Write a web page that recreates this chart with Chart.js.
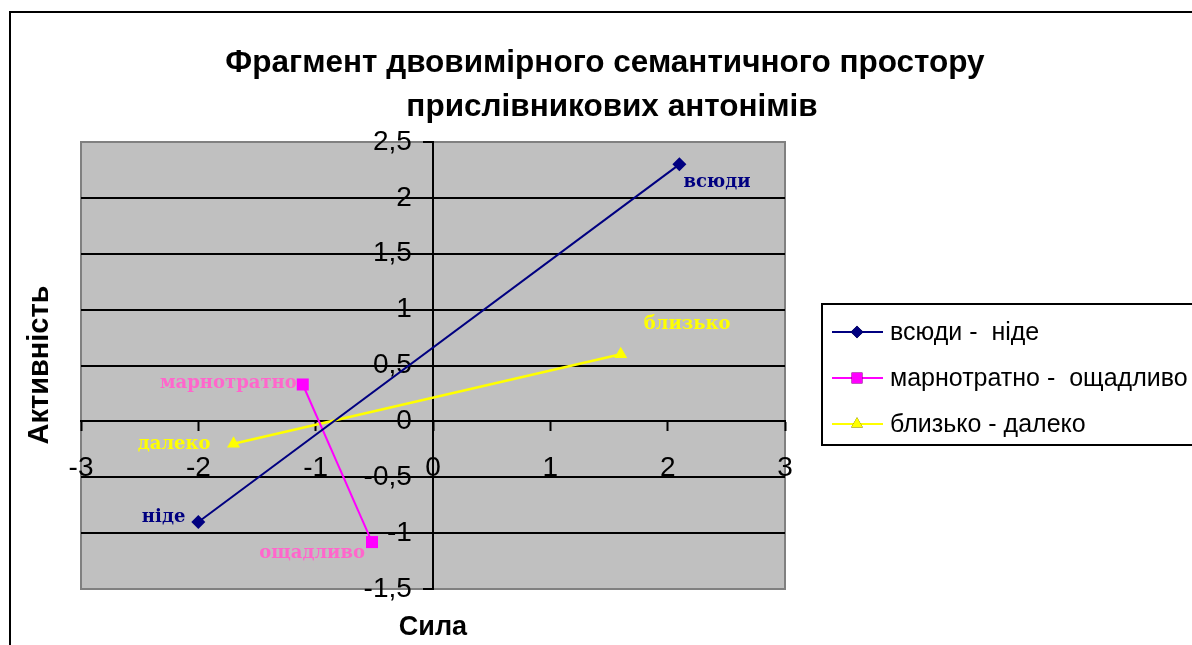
<!DOCTYPE html>
<html>
<head>
<meta charset="utf-8">
<script src="https://cdn.jsdelivr.net/npm/chart.js@4.4.0/dist/chart.umd.min.js"></script>
<style>
  html, body { margin: 0; padding: 0; background: #fff; }
  canvas { display: block; }
</style>
</head>
<body>
<canvas id="chart" width="1192" height="645"></canvas>
<script>
// Antonym pairs placed in the two-dimensional space "Сила" x "Активність"
const seriesNames = ['всюди -  ніде', 'марнотратно -  ощадливо', 'близько - далеко'];
const pointLabels = [['всюди', 'ніде'], ['марнотратно', 'ощадливо'], ['близько', 'далеко']];
const strengthValues = [[2.1, -2.0], [-1.11, -0.52], [1.6, -1.7]];
const activityValues = [[2.3, -0.9], [0.33, -1.08], [0.6, -0.2]];
const xTicks = [-3, -2, -1, 0, 1, 2, 3];
const yTicks = [-1.5, -1, -0.5, 0, 0.5, 1, 1.5, 2, 2.5];
const titleLines = ['Фрагмент двовимірного семантичного простору', 'прислівникових антонімів'];
const xTitle = 'Сила';
const yTitle = 'Активність';

const lineColors = ['#000080', '#FF00FF', '#FFFF00'];
const labelColors = ['#000080', '#FF66CC', '#FFFF00'];
const markerStyles = [
  { pointStyle: 'rectRot', radius: 7 },
  { pointStyle: 'rect', radius: 8.5 },
  { pointStyle: 'triangle', radius: 7.5 }
];
// label placement relative to each marker: [dx, dy, align]
const labelPlacement = [
  [[4, 18, 'left'], [-13, -5, 'right']],
  [[-6, -1, 'right'], [-7, 11, 'right']],
  [[23, -30, 'left'], [-23, 1, 'right']]
];

const SANS = '"Liberation Sans", Arial, sans-serif';
const SERIF = '"DejaVu Serif", serif';
const fmt = v => String(v).replace('.', ',');
// vertical-axis labels sit a little to the left of the axis line
const yLabelGap = '  \u2009';

const datasets = seriesNames.map((name, s) => ({
  label: name,
  data: strengthValues[s].map((x, i) => ({ x, y: activityValues[s][i] })),
  showLine: true,
  borderColor: lineColors[s],
  backgroundColor: lineColors[s],
  borderWidth: s === 2 ? 2.5 : 2,
  pointStyle: markerStyles[s].pointStyle,
  pointRadius: markerStyles[s].radius,
  pointBorderWidth: 0,
  pointBackgroundColor: lineColors[s],
  pointBorderColor: lineColors[s]
}));

const frame = {
  id: 'frame',
  beforeDraw(chart) {
    const { ctx, chartArea: a } = chart;
    ctx.save();
    ctx.strokeStyle = '#000';
    ctx.lineWidth = 2;
    ctx.strokeRect(10, 12, 1300, 800);
    ctx.fillStyle = '#C0C0C0';
    ctx.fillRect(a.left, a.top, a.right - a.left, a.bottom - a.top);
    ctx.strokeStyle = '#808080';
    ctx.lineWidth = 2;
    ctx.strokeRect(a.left, a.top, a.right - a.left, a.bottom - a.top);
    ctx.restore();
  },
  afterDraw(chart) {
    const { ctx } = chart;
    ctx.save();
    ctx.fillStyle = '#000';
    ctx.textAlign = 'center';
    ctx.textBaseline = 'middle';
    ctx.font = 'bold 31.5px ' + SANS;
    ctx.fillText(titleLines[0], 605, 63);
    ctx.fillText(titleLines[1], 612, 107);
    ctx.font = 'bold 27px ' + SANS;
    ctx.fillText(xTitle, 433, 628);
    ctx.font = 'bold 29px ' + SANS;
    ctx.translate(40, 365);
    ctx.rotate(-Math.PI / 2);
    ctx.fillText(yTitle, 0, 0);
    ctx.restore();

    // legend
    ctx.save();
    ctx.strokeStyle = '#000';
    ctx.lineWidth = 2;
    ctx.strokeRect(822, 304, 500, 141);
    ctx.font = '25px ' + SANS;
    ctx.textAlign = 'left';
    ctx.textBaseline = 'middle';
    chart.data.datasets.forEach((ds, s) => {
      const y = 332 + s * 46;
      ctx.strokeStyle = ds.borderColor;
      ctx.lineWidth = 2;
      ctx.beginPath();
      ctx.moveTo(832, y);
      ctx.lineTo(883, y);
      ctx.stroke();
      Chart.helpers.drawPoint(ctx, {
        pointStyle: ds.pointStyle,
        radius: ds.pointRadius * 0.9,
        rotation: 0,
        borderWidth: 0
      }, 857, y);
      ctx.fillStyle = ds.borderColor;
      ctx.fill();
      ctx.fillStyle = '#000';
      ctx.fillText(ds.label, 890, y + 1);
    });
    ctx.restore();
  },
  afterDatasetsDraw(chart) {
    const { ctx } = chart;
    ctx.save();
    ctx.font = 'bold 18px ' + SERIF;
    ctx.textBaseline = 'middle';
    chart.data.datasets.forEach((ds, s) => {
      const meta = chart.getDatasetMeta(s);
      meta.data.forEach((pt, i) => {
        const [dx, dy, align] = labelPlacement[s][i];
        ctx.fillStyle = labelColors[s];
        ctx.textAlign = align;
        ctx.fillText(pointLabels[s][i], pt.x + dx, pt.y + dy);
      });
    });
    ctx.restore();
  }
};

new Chart(document.getElementById('chart'), {
  type: 'scatter',
  data: { datasets },
  options: {
    responsive: false,
    animation: false,
    devicePixelRatio: 1,
    layout: { padding: { left: 81, right: 407, top: 142, bottom: 56 } },
    plugins: { legend: { display: false }, title: { display: false }, tooltip: { enabled: false } },
    scales: {
      x: {
        type: 'linear',
        min: -3, max: 3,
        position: { y: 0 },
        afterBuildTicks: sc => { sc.ticks = xTicks.map(v => ({ value: v })); },
        grid: { drawOnChartArea: false, drawTicks: true, tickLength: 9, tickColor: '#000', tickWidth: 2 },
        border: { display: true, color: '#000', width: 2 },
        ticks: {
          autoSkip: false, maxRotation: 0, padding: 21,
          color: '#000', font: { family: SANS, size: 28 },
          callback: v => fmt(v)
        }
      },
      y: {
        type: 'linear',
        min: -1.5, max: 2.5,
        position: { x: 0 },
        afterBuildTicks: sc => { sc.ticks = yTicks.map(v => ({ value: v })); },
        grid: {
          drawOnChartArea: true, drawTicks: true, tickLength: 9,
          color: c => (c.tick && (c.tick.value === -1.5 || c.tick.value === 2.5)) ? 'rgba(0,0,0,0)' : '#000',
          lineWidth: 2, tickColor: '#000', tickWidth: 2
        },
        border: { display: true, color: '#000', width: 2 },
        ticks: {
          autoSkip: false,
          color: '#000', font: { family: SANS, size: 28 },
          callback: v => fmt(v) + yLabelGap
        }
      }
    }
  },
  plugins: [frame]
});
</script>
</body>
</html>
